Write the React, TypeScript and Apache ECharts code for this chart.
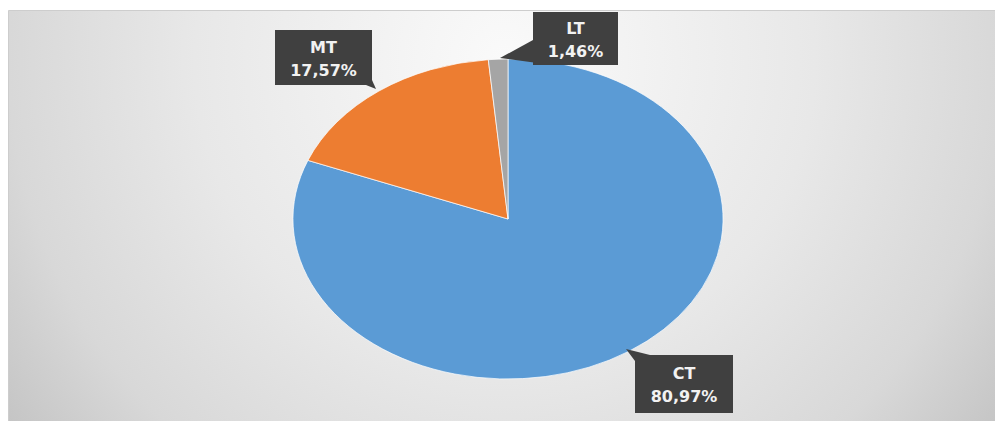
import React, { useEffect, useRef } from "react";
import * as echarts from "echarts";

const categories = ["CT", "MT", "LT"];
const shares = [80.97, 17.57, 1.46];
const colors = ["#5b9bd5", "#ed7d31", "#a5a5a5"];

// callout boxes (layout only)
const callouts = [
  { x: 635, y: 355, w: 98, h: 58, tip: [626, 349], base: [[635, 361], [650, 355]] },
  { x: 275, y: 30, w: 97, h: 55, tip: [376, 89], base: [[372, 80], [366, 85]] },
  { x: 533, y: 12, w: 85, h: 53, tip: [500, 58], base: [[533, 40], [552, 65]] },
];

const CX = 508;
const CY = 219;
const RX = 215;
const RY = 160;

const fmt = (v: number) => v.toFixed(2).replace(".", ",");

export default function App() {
  const ref = useRef<HTMLDivElement>(null);
  useEffect(() => {
    if (!ref.current) return;
    const chart = echarts.init(ref.current, undefined, { renderer: "svg" });
    const total = shares.reduce((a, b) => a + b, 0);
    chart.setOption({
      animation: false,
      backgroundColor: "#ffffff",
      graphic: [
        {
          type: "rect",
          z: -10,
          shape: { x: 8.5, y: 10.5, width: 1000, height: 420 },
          style: {
            fill: new echarts.graphic.RadialGradient(
              505,
              60,
              620,
              [
                { offset: 0, color: "#fafafa" },
                { offset: 0.5, color: "#e8e8e8" },
                { offset: 0.8, color: "#d8d8d8" },
                { offset: 1, color: "#c4c4c4" },
              ],
              true
            ),
            stroke: "#cdcdcd",
            lineWidth: 1,
          },
        },
      ],
      series: [
        {
          type: "custom",
          coordinateSystem: "none",
          data: shares.map((v, i) => ({ name: categories[i], value: v })),
          renderItem: (params: any, api: any) => {
            const i = params.dataIndex;
            let before = 0;
            for (let k = 0; k < i; k++) before += shares[k];
            const v = api.value(0);
            const start = -Math.PI / 2 + (before / total) * 2 * Math.PI;
            const end = start + (v / total) * 2 * Math.PI;
            const c = callouts[i];
            return {
              type: "group",
              children: [
                {
                  type: "sector",
                  x: CX,
                  y: CY,
                  scaleX: RX / RY,
                  shape: { cx: 0, cy: 0, r: RY, r0: 0, startAngle: start, endAngle: end, clockwise: true },
                  style: { fill: colors[i], stroke: "#ffffff", lineWidth: 0.6 },
                },
                {
                  type: "polygon",
                  shape: { points: [c.base[0], c.tip, c.base[1]] },
                  style: { fill: "#404040" },
                },
                {
                  type: "rect",
                  shape: { x: c.x, y: c.y, width: c.w, height: c.h },
                  style: { fill: "#404040" },
                },
                {
                  type: "text",
                  x: c.x + c.w / 2,
                  y: c.y + c.h / 2 + 1,
                  style: {
                    text: `${categories[i]}\n${fmt(v)}%`,
                    fill: "#f2f2f2",
                    fontFamily: "DejaVu Sans",
                    fontWeight: "bold",
                    fontSize: 16,
                    lineHeight: 23,
                    align: "center",
                    verticalAlign: "middle",
                  },
                },
              ],
            };
          },
        },
      ],
    });
    return () => chart.dispose();
  }, []);
  return (
    <div
      ref={ref}
      style={{ position: "absolute", left: 0, top: 0, width: 995, height: 421 }}
    />
  );
}
